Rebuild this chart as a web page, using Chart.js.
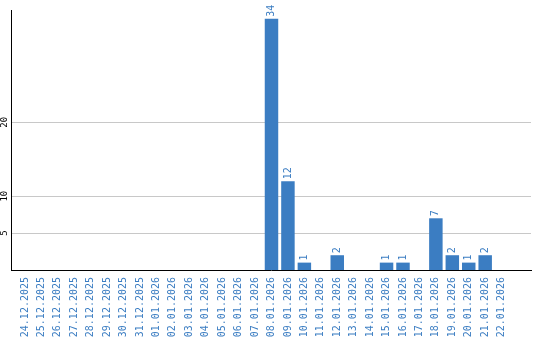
<!DOCTYPE html>
<html>
<head>
<meta charset="utf-8">
<script src="https://cdn.jsdelivr.net/npm/chart.js@4/dist/chart.umd.min.js"></script>
<style>
  html, body { margin:0; padding:0; background:#fff; }
  #wrap { width:540px; height:340px; }
</style>
</head>
<body>
<div id="wrap"><canvas id="myBarChart"></canvas></div>
<script>
const dates = ["24.12.2025","25.12.2025","26.12.2025","27.12.2025","28.12.2025","29.12.2025",
  "30.12.2025","31.12.2025","01.01.2026","02.01.2026","03.01.2026","04.01.2026","05.01.2026",
  "06.01.2026","07.01.2026","08.01.2026","09.01.2026","10.01.2026","11.01.2026","12.01.2026",
  "13.01.2026","14.01.2026","15.01.2026","16.01.2026","17.01.2026","18.01.2026","19.01.2026",
  "20.01.2026","21.01.2026","22.01.2026"];
const counts = [0,0,0,0,0,0,0,0,0,0,0,0,0,0,0,34,12,1,0,2,0,0,1,1,0,7,2,1,2,0];
const yTicks = [5, 10, 20];

const blue = "#3b7dc2";

// value labels above the bars + rotated y tick labels
const labelsPlugin = {
  id: "labels",
  afterDatasetsDraw(chart) {
    const ctx = chart.ctx;
    const meta = chart.getDatasetMeta(0);
    ctx.save();
    ctx.fillStyle = blue;
    ctx.font = "10px 'DejaVu Sans Mono'";
    ctx.textAlign = "left";
    ctx.textBaseline = "middle";
    meta.data.forEach((bar, i) => {
      if (!counts[i]) return;
      ctx.save();
      ctx.translate(bar.x, bar.y - 2);
      ctx.rotate(-Math.PI / 2);
      ctx.fillText(String(counts[i]), 0, 0);
      ctx.restore();
    });
    const y = chart.scales.y;
    ctx.fillStyle = "#000";
    ctx.font = "9px 'DejaVu Sans Mono'";
    ctx.textAlign = "center";
    for (const t of yTicks) {
      ctx.save();
      ctx.translate(5, y.getPixelForValue(t));
      ctx.rotate(-Math.PI / 2);
      ctx.fillText(String(t), 0, 0);
      ctx.restore();
    }
    ctx.restore();
  }
};

const myBarChart = new Chart(document.getElementById("myBarChart"), {
  type: "bar",
  data: {
    datasets: [{
      data: counts.map((v, i) => ({ x: i, y: v })),
      backgroundColor: blue,
      categoryPercentage: 1,
      barPercentage: 0.82
    }]
  },
  options: {
    responsive: true,
    maintainAspectRatio: false,
    animation: false,
    layout: { padding: { top: 10, right: 9, left: 0, bottom: 0 } },
    plugins: { legend: { display: false }, tooltip: { enabled: false } },
    scales: {
      x: {
        type: "linear",
        min: -0.32,
        max: 30.26,
        afterBuildTicks: s => { s.ticks = dates.map((d, i) => ({ value: i })); },
        afterFit: s => { s.height = 70; },
        grid: { display: false, drawTicks: false },
        border: { color: "#000", width: 1 },
        ticks: {
          autoSkip: false,
          minRotation: 90,
          maxRotation: 90,
          padding: 7,
          color: blue,
          font: { family: "DejaVu Sans Mono", size: 10 },
          callback: v => dates[v]
        }
      },
      y: {
        min: 0,
        max: 35.2,
        afterBuildTicks: s => { s.ticks = yTicks.map(v => ({ value: v })); },
        afterFit: s => { s.width = 11; },
        grid: { color: "#c8c8c8", drawTicks: false },
        border: { color: "#000", width: 1 },
        ticks: { display: false }
      }
    }
  },
  plugins: [labelsPlugin]
});
</script>
</body>
</html>
